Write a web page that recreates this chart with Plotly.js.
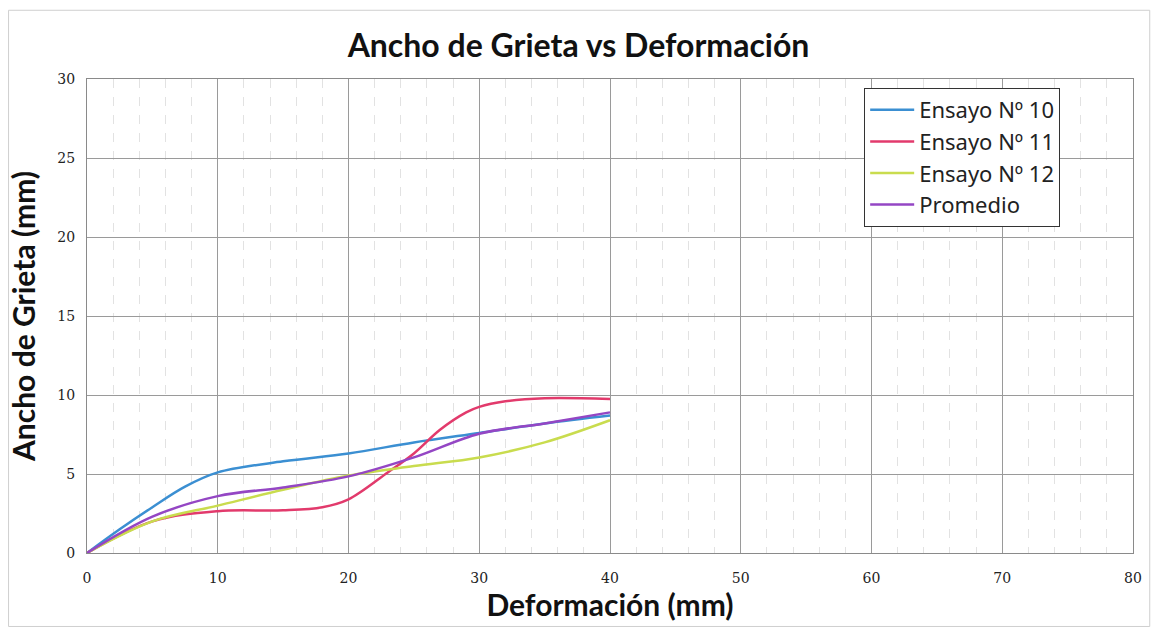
<!DOCTYPE html>
<html><head><meta charset="utf-8">
<script src="https://cdn.plot.ly/plotly-3.0.1.min.js"></script>
<style>body{margin:0;background:#fff}#c{width:1157px;height:631px}</style>
</head><body><div id="c"></div>
<script>
const xBlue = [0, 2.5, 5, 7.5, 10, 15, 20, 25, 30, 35, 40];
const yBlue = [0, 1.5, 2.9, 4.2, 5.1, 5.8, 6.3, 7.0, 7.6, 8.2, 8.7];
const xRed = [0, 5, 10, 15, 18, 20, 23, 25, 27, 29, 30, 32, 35, 40];
const yRed = [0, 2.0, 2.65, 2.7, 2.9, 3.4, 5.1, 6.3, 7.8, 8.9, 9.25, 9.6, 9.8, 9.75];
const xGreen = [0, 5, 10, 15, 20, 25, 30, 35, 40];
const yGreen = [0, 2.0, 3.0, 4.0, 4.9, 5.5, 6.05, 7.0, 8.4];
const xAvg = [0, 5, 10, 15, 20, 25, 30, 35, 40];
const yAvg = [0, 2.3, 3.6, 4.15, 4.85, 6.05, 7.55, 8.2, 8.9];
const names = ["Ensayo Nº 10", "Ensayo Nº 11", "Ensayo Nº 12", "Promedio"];
const colors = ["#3b8fd2", "#e23a6c", "#c9dc4e", "#9446c4"];

const xs = [xBlue, xRed, xGreen, xAvg], ys = [yBlue, yRed, yGreen, yAvg];
const data = xs.map((x, i) => ({
  x: x, y: ys[i], name: names[i], type: "scatter", mode: "lines",
  line: {color: colors[i], width: 2.5, shape: "spline", smoothing: 1}
}));

const layout = {
  width: 1157, height: 631,
  margin: {l: 87, r: 24, t: 79, b: 78},
  paper_bgcolor: "#fff", plot_bgcolor: "#fff",
  title: {text: "<b>Ancho de Grieta vs Deformación</b>", x: 0.5, xanchor: "center", y: 0.927, yanchor: "middle",
          font: {family: "Lato, 'Open Sans', sans-serif", size: 32, color: "#111"}},
  xaxis: {range: [0, 80], dtick: 10, tick0: 0, showgrid: true, gridcolor: "#9a9a9a", gridwidth: 1,
          minor: {dtick: 2, showgrid: true, gridcolor: "#e2e2e2", griddash: "dash", gridwidth: 1},
          zeroline: false, showline: true, linecolor: "#8a8a8a", mirror: true, ticks: "",
          ticklabelstandoff: 12,
          tickfont: {family: "'DejaVu Serif', 'Liberation Serif', serif", size: 14, color: "#222"},
          title: {text: "<b>Deformación (mm)</b>", standoff: 10,
                  font: {family: "Lato, 'Open Sans', sans-serif", size: 30, color: "#111"}}},
  yaxis: {range: [0, 30], dtick: 5, tick0: 0, showgrid: true, gridcolor: "#9a9a9a", gridwidth: 1,
          zeroline: false, showline: true, linecolor: "#8a8a8a", mirror: true, ticks: "",
          ticklabelstandoff: 8,
          tickfont: {family: "'DejaVu Serif', 'Liberation Serif', serif", size: 14, color: "#222"},
          title: {text: "<b>Ancho de Grieta (mm)</b>", standoff: 12,
                  font: {family: "Lato, 'Open Sans', sans-serif", size: 30, color: "#111"}}},
  legend: {x: 0.743, y: 0.981, xanchor: "left", yanchor: "top", bgcolor: "#fff",
           bordercolor: "#333", borderwidth: 1, tracegroupgap: 0, itemwidth: 44,
           font: {family: "'Noto Sans', 'Open Sans', sans-serif", size: 22, color: "#222"}},
  shapes: [{type: "rect", xref: "paper", yref: "paper", x0: -0.075, x1: 1.016, y0: -0.155, y1: 1.145,
            line: {color: "#cfcfcf", width: 1}}],
  showlegend: true
};
Plotly.newPlot("c", data, layout, {displayModeBar: false});
</script>
</body></html>
